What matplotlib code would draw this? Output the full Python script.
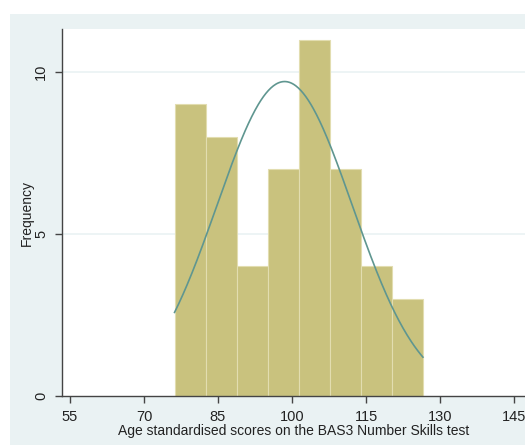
import numpy as np
import matplotlib
matplotlib.use('Agg')
import matplotlib.pyplot as plt
from matplotlib.patches import Rectangle

plt.rcParams['font.family'] = ['Liberation Sans', 'DejaVu Sans']

# histogram of BAS3 scores
binStart = 76.2
binWidth = 6.29
counts = [9, 8, 4, 7, 11, 7, 4, 3]
xTicks = [55, 70, 85, 100, 115, 130, 145]
yTicks = [0, 5, 10]
# fitted normal curve
fitMean = 98.5
fitSd = 13.7

nTotal = sum(counts)
edges = binStart + binWidth * np.arange(len(counts) + 1)

fig = plt.figure(figsize=(5.25, 4.46), dpi=100)
fig.patch.set_facecolor('white')
fig.patches.append(Rectangle((10 / 525, 1 / 446), 515 / 525, 431 / 446,
                             transform=fig.transFigure, facecolor='#eaf2f3',
                             edgecolor='none', zorder=-10))

ax = fig.add_axes([62 / 525, 50 / 446, 463 / 525, 367 / 446])
ax.set_facecolor('white')
ax.set_zorder(1)

for y in [5, 10]:
    ax.axhline(y, color='#eaf2f3', lw=1.2, zorder=0)

ax.bar(edges[:-1], counts, width=binWidth, align='edge', color='#c9c27e',
       edgecolor='#e2ddb0', linewidth=0.8, zorder=2)

xs = np.linspace(edges[0], edges[-1], 300)
dens = nTotal * binWidth / (fitSd * np.sqrt(2 * np.pi)) * np.exp(-(xs - fitMean) ** 2 / (2 * fitSd ** 2))
ax.plot(xs, dens, color='#5f9690', lw=1.2, zorder=3)

ax.set_xlim(53.4, 147.2)
ax.set_ylim(0, 11.33)
ax.set_xticks(xTicks)
ax.set_yticks(yTicks)
ax.set_yticklabels([str(t) for t in yTicks], rotation=90, va='center')
ax.tick_params(axis='both', direction='out', length=5, width=1, color='#444444',
               labelsize=10.5, labelcolor='#222222', pad=5)
for s in ['top', 'right']:
    ax.spines[s].set_visible(False)
for s in ['left', 'bottom']:
    ax.spines[s].set_color('#444444')
    ax.spines[s].set_linewidth(1)

ax.set_xlabel('Age standardised scores on the BAS3 Number Skills test', fontsize=10,
              color='#222222', labelpad=0)
ax.set_ylabel('Frequency', fontsize=10, color='#222222', labelpad=0)

fig.savefig('out.png', dpi=100, facecolor=fig.get_facecolor())
